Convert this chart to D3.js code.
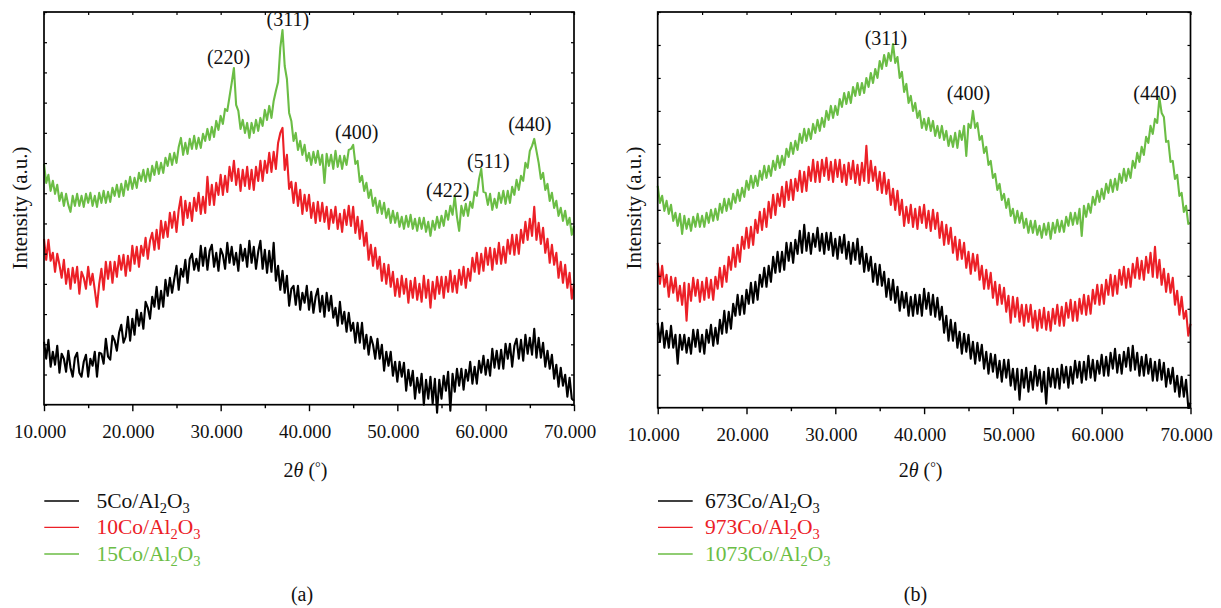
<!DOCTYPE html>
<html><head><meta charset="utf-8">
<script src="https://cdn.jsdelivr.net/npm/d3@7"></script>
<style>
body{margin:0;background:#fff}
svg{display:block}
text{font-family:"Liberation Serif","Times New Roman",serif;fill:#111}
</style>
</head><body>
<svg id="c" width="1221" height="608"></svg>
<script>
// ---------- data (intensity in a.u., sampled every 0.25° of 2θ from 10° to 70°) ----------
const thetaStart = 10, thetaStep = 0.25;
const xTicks = [10, 20, 30, 40, 50, 60, 70];
const xMinorTicks = [15, 25, 35, 45, 55, 65];
const xTopTicks = [10, 15, 20, 25, 30, 35, 40, 45, 50, 55, 60, 65, 70];

const namesA = ["5Co/Al_2O_3", "10Co/Al_2O_3", "15Co/Al_2O_3"];
const namesB = ["673Co/Al_2O_3", "973Co/Al_2O_3", "1073Co/Al_2O_3"];
const seriesColors = ["#000000", "#ec2027", "#6bbd45"];

const blackA = [
63,46,65,38,53,40,59,32,51,46,33,54,37,28,47,52,32,28,43,50,
28,46,39,53,28,52,51,41,66,48,45,69,64,54,72,80,62,68,88,64,
86,70,95,79,92,76,103,97,86,108,98,118,96,114,98,125,109,127,112,126,
139,115,136,128,145,122,146,151,135,146,134,159,139,157,135,154,160,138,152,134,
156,150,136,162,142,158,140,152,134,160,144,156,138,164,142,158,136,153,164,136,
155,132,154,133,162,124,139,115,134,112,129,99,116,119,100,119,95,112,102,119,
95,113,92,108,116,93,109,88,112,94,109,87,97,79,103,81,93,73,92,74,
82,62,82,62,82,56,70,50,68,60,46,66,46,60,34,53,39,53,29,43,
23,43,28,42,14,35,19,34,6,27,12,31,0,25,6,28,1,26,-8,25,
6,29,14,33,-6,31,13,36,19,36,15,35,24,43,21,38,21,44,32,49,
30,45,29,56,37,54,36,55,36,61,46,61,38,59,66,46,65,44,70,51,
67,50,76,47,67,47,62,38,54,36,50,26,40,18,37,19,30,8,27,6,
4];
const redA = [
166,145,165,144,152,133,151,140,127,145,121,136,116,137,122,138,111,133,127,116,
138,120,131,115,98,121,136,115,143,126,143,122,143,128,149,135,150,129,149,134,
159,141,158,138,159,149,167,146,164,172,155,175,156,184,167,183,168,192,177,193,
173,195,208,180,204,187,202,184,207,194,212,191,208,192,228,200,220,200,222,210,
230,210,229,213,238,224,244,220,236,214,235,219,238,216,235,215,238,224,244,224,
244,232,252,233,253,236,262,272,277,235,250,216,223,202,222,199,215,191,210,194,
210,187,202,182,203,184,202,183,198,176,195,182,198,176,191,173,195,180,199,179,
198,172,188,166,184,159,172,145,160,139,157,136,148,124,141,121,140,118,133,109,
126,108,129,111,126,102,124,107,127,105,121,103,129,107,125,97,123,106,128,111,
128,107,128,113,134,113,129,112,135,120,138,117,136,124,147,133,152,131,151,134,
157,140,157,135,156,141,162,141,158,142,165,151,170,150,170,151,175,162,183,165,
186,169,198,165,182,161,177,152,166,142,160,140,152,127,143,122,140,117,132,106,
121];
const greenA = [
241,222,230,214,224,211,220,204,212,199,211,200,193,209,199,211,199,209,198,211,
202,212,199,209,198,212,202,214,202,213,203,217,209,220,208,221,209,224,215,228,
216,227,217,232,224,235,223,236,224,239,230,243,231,242,232,247,239,251,240,252,
242,258,267,250,262,251,266,256,269,256,267,257,271,264,276,265,278,268,284,275,
289,281,296,294,308,322,337,300,294,276,285,272,282,267,282,272,285,274,287,279,
295,285,299,287,304,314,323,357,375,339,326,292,284,264,272,255,264,250,260,244,
252,240,253,242,254,240,250,222,251,239,250,236,254,238,249,236,249,240,255,256,
260,241,244,223,229,214,222,207,215,199,207,192,204,191,202,187,196,182,194,182,
192,178,188,176,189,178,190,176,186,174,187,176,187,173,183,169,184,175,188,177,
189,179,194,185,199,190,209,188,174,199,189,201,189,203,197,213,209,226,236,213,
212,200,211,195,206,197,212,202,214,201,214,202,218,210,225,215,229,224,242,237,
254,259,266,254,242,226,232,215,221,204,212,197,204,189,197,184,194,180,187,170,
179];

const blackB = [
85,66,85,60,77,60,82,60,73,44,73,58,73,55,70,54,78,61,78,56,
73,54,78,65,83,62,80,64,88,74,97,75,96,79,104,92,113,93,112,94,
118,104,125,105,126,108,133,121,140,121,142,126,151,135,156,136,156,138,165,147,
165,145,168,154,177,155,183,157,175,154,174,161,180,157,174,154,175,158,175,152,
169,149,171,155,173,149,166,144,165,148,169,144,161,136,154,137,151,126,144,123,
143,122,136,111,129,108,128,105,121,97,116,100,115,92,111,92,113,94,113,92,
119,99,115,93,113,91,110,88,101,75,92,67,88,67,85,60,76,54,74,56,
73,49,66,44,65,47,63,39,56,34,54,36,53,30,47,26,48,30,48,22,
39,18,39,8,38,20,40,16,36,18,42,22,38,16,36,4,40,21,39,20,
39,19,43,25,41,20,41,24,47,30,46,25,46,28,52,30,48,27,47,34,
53,32,51,32,55,39,59,35,53,34,56,41,60,37,62,38,55,32,51,32,
53,34,49,27,46,27,48,28,45,21,39,24,40,16,32,11,31,11,28,0,
5];
const redB = [
145,124,142,121,133,111,131,115,130,107,122,103,125,87,124,107,130,112,128,106,
126,108,130,110,128,108,131,119,140,121,142,126,151,138,160,141,163,146,171,159,
180,160,181,163,188,175,196,178,199,181,206,190,213,193,214,202,221,201,226,208,
228,208,229,217,237,216,236,217,241,227,248,226,246,226,248,232,250,228,246,226,
248,231,248,226,243,223,245,229,247,225,243,223,245,227,262,225,247,227,241,218,
236,215,235,214,228,203,219,198,217,193,208,182,201,185,203,181,199,179,201,185,
203,180,197,177,198,179,195,170,186,163,183,164,180,155,171,148,168,149,165,140,
156,134,154,137,153,128,142,119,138,119,135,110,126,103,123,104,120,96,112,85,
111,91,110,86,103,82,103,86,103,80,97,77,98,80,100,78,96,77,99,84,
103,82,101,82,105,90,108,87,106,87,109,94,113,93,112,94,118,104,123,103,
123,104,128,113,133,112,132,114,138,123,141,120,139,121,144,130,150,129,147,128,
151,135,155,131,161,130,148,123,139,116,134,115,130,103,117,93,111,89,97,72,
84];
const greenB = [
222,205,212,197,207,194,203,187,195,182,194,174,192,179,189,177,191,181,194,181,
192,181,195,185,198,187,199,188,204,195,209,197,209,199,214,205,218,207,220,211,
227,218,232,220,232,222,237,228,242,230,242,232,247,238,252,240,252,243,259,251,
265,254,267,258,274,265,279,267,279,269,284,275,288,277,290,281,297,288,302,290,
302,293,309,301,315,304,316,305,321,312,325,313,325,315,330,321,335,325,339,330,
347,339,353,342,355,347,364,345,351,330,336,316,324,305,312,297,305,290,297,280,
289,278,290,277,287,272,282,270,282,268,277,262,272,261,275,260,277,268,282,252,
284,280,297,280,285,268,272,255,261,243,247,230,234,218,224,208,214,200,209,192,
199,185,197,185,195,180,189,175,187,175,187,173,182,170,184,173,185,169,185,175,
188,176,187,176,191,182,195,183,195,184,199,172,202,191,204,195,211,203,217,206,
219,209,224,215,228,216,229,218,234,225,239,227,239,230,247,240,255,246,261,253,
271,265,282,274,289,285,310,295,291,266,267,246,247,229,233,212,215,196,202,184,
185];

// peak annotations: label, 2θ position, intensity level of label baseline
const peakLabelsA = ["(220)", "(311)", "(400)", "(422)", "(511)", "(440)"];
const peakThetaA  = [30.9, 37.6, 45.4, 55.7, 60.3, 65.0];
const peakLevelA  = [341, 379, 266, 208, 237, 274];
const peakLabelsB = ["(311)", "(400)", "(440)"];
const peakThetaB  = [35.7, 45.0, 66.0];
const peakLevelB  = [363, 308, 308];

// ---------- drawing ----------
const FONT = "'Liberation Serif','Times New Roman',serif";
const svg = d3.select("#c");

const panels = [
  {left: 44, right: 574, top: 12, bottom: 404.7, yMax: 393, yIntervals: 13,
   series: [blackA, redA, greenA], names: namesA,
   peaks: [peakLabelsA, peakThetaA, peakLevelA],
   caption: "(a)", capX: 302, legTextX: 96.5, yTitleX: 27},
  {left: 657.7, right: 1190.5, top: 12, bottom: 407.7, yMax: 396, yIntervals: 12,
   series: [blackB, redB, greenB], names: namesB,
   peaks: [peakLabelsB, peakThetaB, peakLevelB],
   caption: "(b)", capX: 915.5, legTextX: 705, yTitleX: 640.5}
];

function richLabel(sel, str, subSize) {
  const parts = str.split(/_(\d)/);
  parts.forEach((p, i) => {
    if (p === "") return;
    const t = sel.append("tspan").text(p);
    if (i % 2 === 1) {
      t.attr("font-size", subSize).attr("dy", 5);
    } else if (i > 0) {
      t.attr("dy", -5);
    }
  });
}

panels.forEach(cfg => {
  const x = d3.scaleLinear().domain([10, 70]).range([cfg.left, cfg.right]);
  const y = d3.scaleLinear().domain([0, cfg.yMax]).range([cfg.bottom, cfg.top]);
  const yTicks = d3.range(cfg.yIntervals + 1).map(i => i * cfg.yMax / cfg.yIntervals);
  const g = svg.append("g");

  // data lines
  const line = d3.line()
    .x((d, i) => x(thetaStart + i * thetaStep))
    .y(d => y(d));
  cfg.series.forEach((s, k) => {
    g.append("path").attr("d", line(s))
      .attr("fill", "none").attr("stroke", seriesColors[k])
      .attr("stroke-width", 2.1).attr("stroke-linejoin", "round");
  });

  // frame
  g.append("rect").attr("x", cfg.left).attr("y", cfg.top)
    .attr("width", cfg.right - cfg.left).attr("height", cfg.bottom - cfg.top)
    .attr("fill", "none").attr("stroke", "#000").attr("stroke-width", 1.7);

  // bottom axis: major + minor ticks outward
  const axB = g.append("g").attr("transform", `translate(0,${cfg.bottom})`)
    .call(d3.axisBottom(x).tickValues(xTicks).tickSize(6.5).tickFormat(d3.format(".3f")));
  axB.select(".domain").remove();
  axB.selectAll("line").attr("stroke", "#000").attr("stroke-width", 1.4);
  axB.selectAll("text").attr("y", 33).attr("dy", 0).attr("dx", -4.5)
    .attr("font-size", 19).attr("fill", "#111");
  const axBm = g.append("g").attr("transform", `translate(0,${cfg.bottom})`)
    .call(d3.axisBottom(x).tickValues(xMinorTicks).tickSize(3.5).tickFormat(""));
  axBm.select(".domain").remove();
  axBm.selectAll("line").attr("stroke", "#000").attr("stroke-width", 1.4);

  // top axis: small inward ticks
  const axT = g.append("g").attr("transform", `translate(0,${cfg.top})`)
    .call(d3.axisTop(x).tickValues(xTopTicks).tickSize(-3).tickFormat(""));
  axT.select(".domain").remove();
  axT.selectAll("line").attr("stroke", "#000").attr("stroke-width", 1.2);

  // left / right axes: small inward ticks
  const axL = g.append("g").attr("transform", `translate(${cfg.left},0)`)
    .call(d3.axisLeft(y).tickValues(yTicks).tickSize(-3).tickFormat(""));
  axL.select(".domain").remove();
  axL.selectAll("line").attr("stroke", "#000").attr("stroke-width", 1.2);
  const axR = g.append("g").attr("transform", `translate(${cfg.right},0)`)
    .call(d3.axisRight(y).tickValues(yTicks).tickSize(-3).tickFormat(""));
  axR.select(".domain").remove();
  axR.selectAll("line").attr("stroke", "#000").attr("stroke-width", 1.2);

  // peak labels
  const [pl, pt, pv] = cfg.peaks;
  pl.forEach((lab, i) => {
    g.append("text").attr("x", x(pt[i])).attr("y", y(pv[i]))
      .attr("text-anchor", "middle").attr("font-size", 20).text(lab);
  });

  // axis titles
  const xt = g.append("text").attr("x", (cfg.left + cfg.right) / 2 - 3.5).attr("y", 476.5)
    .attr("text-anchor", "middle").attr("font-size", 20);
  xt.append("tspan").text("2");
  xt.append("tspan").attr("font-style", "italic").text("θ");
  xt.append("tspan").text(" (");
  xt.append("tspan").attr("font-size", 14).attr("dy", -5).text("°");
  xt.append("tspan").attr("dy", 5).text(")");

  g.append("text")
    .attr("transform", `translate(${cfg.yTitleX},208) rotate(-90)`)
    .attr("text-anchor", "middle").attr("font-size", 21)
    .text("Intensity (a.u.)");

  // legend
  const rowY = [501, 527.4, 554];
  cfg.names.forEach((nm, k) => {
    g.append("line").attr("x1", cfg.left + 0.3).attr("x2", cfg.left + 35)
      .attr("y1", rowY[k]).attr("y2", rowY[k])
      .attr("stroke", seriesColors[k]).attr("stroke-width", 1.3);
    const t = g.append("text").attr("x", cfg.legTextX).attr("y", rowY[k] + 6.6)
      .attr("font-size", 21.5).style("fill", k === 0 ? "#111" : seriesColors[k]);
    richLabel(t, nm, 14.5);
  });

  // caption
  g.append("text").attr("x", cfg.capX).attr("y", 601)
    .attr("text-anchor", "middle").attr("font-size", 20).text(cfg.caption);
});

svg.selectAll("text").style("font-family", FONT);
</script>
</body></html>
